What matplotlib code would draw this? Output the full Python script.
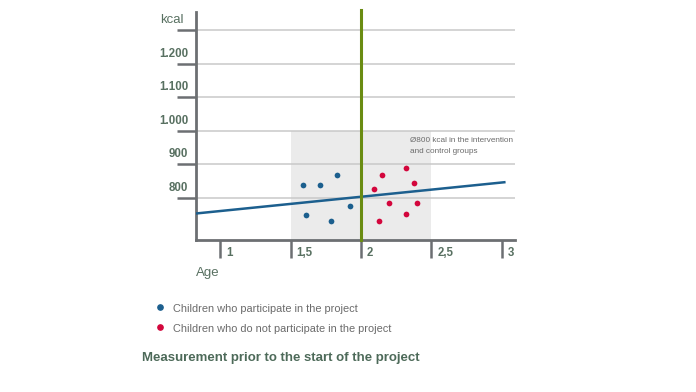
import matplotlib.pyplot as plt
from matplotlib.patches import Rectangle
from matplotlib.lines import Line2D
import matplotlib.transforms as mtransforms


# =====================================
# Data
# =====================================
blue_age = [1.59, 1.71, 1.83, 1.61, 1.79, 1.92]
blue_kcal = [838, 838, 868, 749, 732, 776]

red_age = [2.15, 2.09, 2.32, 2.38, 2.20, 2.40, 2.32, 2.13]
red_kcal = [868, 828, 889, 846, 786, 786, 753, 732]

trend_age = [0.827, 3.02]
trend_kcal = [754, 847]

x_ticks = [1, 1.5, 2, 2.5, 3]
x_labels = ['1', '1,5', '2', '2,5', '3']
y_ticks = [800, 900, 1000, 1100, 1200, 1300]
y_labels = ['800', '900', '1.000', '1.100', '1.200', 'kcal']

legend_labels = ['Children who participate in the project',
                 'Children who do not participate in the project']
title = 'Measurement prior to the start of the project'
note = 'Ø800 kcal in the intervention\nand control groups'

# colours
BLUE = '#1c5f8e'
RED = '#d3063c'
GREEN = '#6a8c12'
AXIS = '#6c6f72'
GRID = '#c9c9c9'
SHADE = '#ebebeb'
LABEL = '#587061'
TEXT = '#6b6b6b'


def main():
    plt.rcParams['font.family'] = ['Liberation Sans', 'DejaVu Sans']

    fig = plt.figure(figsize=(6.96, 3.92), dpi=100)
    W, H = 696, 392
    # axes box in pixels: x 196..515, y 12..240 (from top)
    ax = fig.add_axes([196/W, (H-240)/H, (515-196)/W, (240-12)/H])

    ax.set_xlim(0.826, 3.096)
    ax.set_ylim(675, 1354)

    for side in ['top', 'right']:
        ax.spines[side].set_visible(False)
    for side in ['left', 'bottom']:
        ax.spines[side].set_color(AXIS)
        ax.spines[side].set_linewidth(2)

    # grid lines
    for yv in y_ticks:
        ax.axhline(yv, color=GRID, lw=1.1, zorder=1)

    # shaded area
    ax.add_patch(Rectangle((1.5, 675), 1.0, 325, color=SHADE, lw=0, zorder=0))

    # ticks
    ax.set_xticks(x_ticks)
    ax.set_yticks(y_ticks)
    ax.set_xticklabels([])
    ax.set_yticklabels([])
    ax.tick_params(axis='y', length=14, width=1.8, color=AXIS, direction='out')
    ax.tick_params(axis='x', length=13, width=1.8, color=AXIS, direction='out')

    trans_y = mtransforms.blended_transform_factory(ax.transAxes, ax.transData)
    for yv, lab in zip(y_ticks, y_labels):
        if lab == 'kcal':
            ax.text(-0.04, yv + 12, lab, transform=trans_y, ha='right', va='bottom',
                    fontsize=9.5, color=LABEL)
        else:
            ax.text(-0.025, yv + 12, lab, transform=trans_y, ha='right', va='bottom',
                    fontsize=8.3, fontweight='bold', color=LABEL)

    trans_x = mtransforms.blended_transform_factory(ax.transData, ax.transAxes)
    for xv, lab in zip(x_ticks, x_labels):
        ax.text(xv + 0.042, -0.056, lab, transform=trans_x, ha='left', va='center',
                fontsize=8.3, fontweight='bold', color=LABEL)
    ax.text(0.0, -0.118, 'Age', transform=ax.transAxes, ha='left', va='top',
            fontsize=9.5, color=LABEL)

    # green marker line at age 2
    ax.plot([2, 2], [675, 1360], color=GREEN, lw=2.2, zorder=4, clip_on=False)

    # trend line
    ax.plot(trend_age, trend_kcal, color=BLUE, lw=1.8, zorder=3)

    ax.scatter(blue_age, blue_kcal, s=17, color=BLUE, zorder=5, lw=0)
    ax.scatter(red_age, red_kcal, s=17, color=RED, zorder=5, lw=0)

    ax.text(2.35, 1000 - 18, note, ha='left', va='top', fontsize=5.9,
            color=TEXT, linespacing=1.9)

    # legend and title
    for i, (lab, col) in enumerate(zip(legend_labels, [BLUE, RED])):
        yy = (H - 307 - i*20) / H
        fig.add_artist(Line2D([160/W], [yy], marker='o', markersize=3.8,
                              color=col, lw=0, transform=fig.transFigure))
        fig.text(173/W, yy - 1.5/H, lab, color=TEXT, fontsize=7.9,
                 ha='left', va='center')

    fig.text(142/W, (H-358)/H, title, color='#4d6a59', fontsize=9.5,
             fontweight='bold', ha='left', va='center')

    fig.savefig('out.png', dpi=100)


if __name__ == "__main__":
    main()
